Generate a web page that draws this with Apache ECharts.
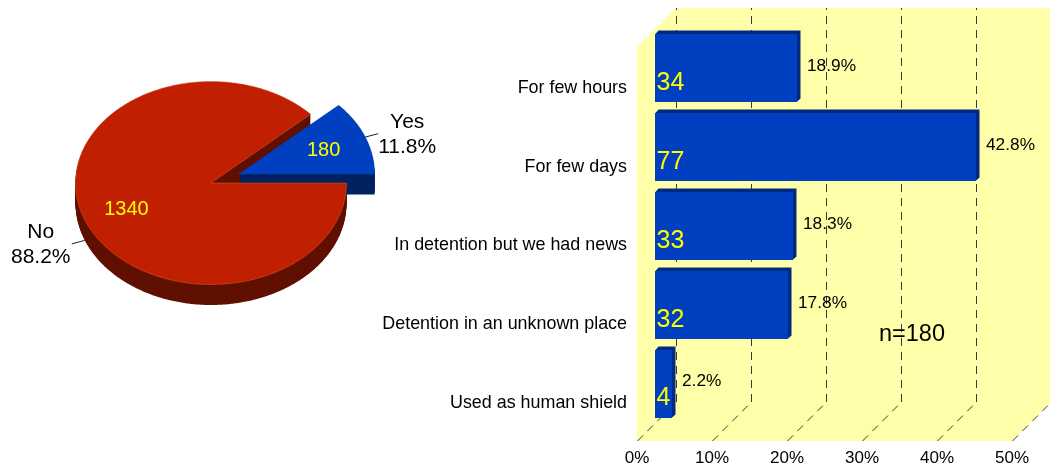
<!DOCTYPE html>
<html>
<head>
<meta charset="utf-8">
<style>html,body{margin:0;padding:0;background:#fff}#c{width:1050px;height:473px}</style>
<script src="https://cdn.jsdelivr.net/npm/echarts@6/dist/echarts.min.js"></script>
</head>
<body>
<div id="c"></div>
<script>
// ---- data ----
const pieNames = ['No', 'Yes'];
const pieValues = [1340, 180];
const barCategories = ['For few hours', 'For few days', 'In detention but we had news', 'Detention in an unknown place', 'Used as human shield'];
const barCounts = [34, 77, 33, 32, 4];
const barTotal = 180;
const axisTicks = [0, 10, 20, 30, 40, 50];
const noteText = 'n=180';

// ---- styling ----
const FONT = '"Liberation Sans", Arial, sans-serif';
const PIE_TOP = ['#c02000', '#0040c0'];
const PIE_SIDE = ['#601000', '#002060'];
const BAR_FRONT = '#0040c0', BAR_SIDE = '#002a80';
const WALL = '#ffffaa', GRIDLINE = '#3a3a3a', VALUE_TEXT = '#ffff00', TEXT = '#000';
const DEPTH = 39, BAR_SHIFT = 18, BAR_DEPTH = 3.5, BAR_HEIGHT = 68;
const PIE = {cx: 211, cy: 183, rx: 135.5, ry: 101.5, depth: 20.5, explodeX: 28, explodeY: -9};

const pieTotal = pieValues.reduce((a, b) => a + b, 0);
// slices run counter-clockwise; Yes starts at 3 o'clock, No follows it
const yesSpan = pieValues[1] / pieTotal * 2 * Math.PI;
function sliceAngles(i) {
  return i === 1 ? [0, yesSpan] : [yesSpan, 2 * Math.PI];
}
function sliceCenter(i) {
  return i === 1 ? [PIE.cx + PIE.explodeX, PIE.cy + PIE.explodeY] : [PIE.cx, PIE.cy];
}
function slicePoints(i, dy) {
  const [a0, a1] = sliceAngles(i), [cx, cy] = sliceCenter(i);
  const pts = [[cx, cy + dy]];
  const n = Math.ceil((a1 - a0) / 0.01);
  for (let k = 0; k <= n; k++) {
    const a = a0 + (a1 - a0) * k / n;
    pts.push([cx + PIE.rx * Math.cos(a), cy + dy - PIE.ry * Math.sin(a)]);
  }
  return pts;
}
function pieWalls(params, api) {
  const i = api.value(0), children = [];
  for (let d = PIE.depth; d > 0; d -= 1) {
    children.push({type: 'polygon', shape: {points: slicePoints(i, d)}, style: {fill: PIE_SIDE[i]}, silent: true});
  }
  return {type: 'group', children};
}
function pieTops(params, api) {
  const i = api.value(0), [a0, a1] = sliceAngles(i), [cx, cy] = sliceCenter(i);
  const mid = (a0 + a1) / 2, c = Math.cos(mid), s = Math.sin(mid);
  const ex = cx + PIE.rx * c;
  const ey = cy - PIE.ry * s + (s < 0 ? PIE.depth : 0);
  const dir = c < 0 ? -1 : 1;
  const lx = ex + dir * 13, ly = ey - s * 9.5;
  const pct = (api.value(1) / pieTotal * 100).toFixed(1) + '%';
  const tx = c < 0 ? lx - 31 : lx + 29;
  const font = '21px ' + FONT;
  return {type: 'group', children: [
    {type: 'polygon', shape: {points: slicePoints(i, 0)}, style: {fill: PIE_TOP[i], stroke: i === 0 ? '#d8603c' : PIE_TOP[i], lineWidth: 0.5}},
    {type: 'line', shape: {x1: ex, y1: ey, x2: lx, y2: ly}, style: {stroke: '#222', lineWidth: 1}},
    {type: 'text', style: {x: cx + 0.67 * PIE.rx * c, y: cy - 0.67 * PIE.ry * s + 1.5, text: String(api.value(1)), fill: VALUE_TEXT, font: '20px ' + FONT, align: 'center', verticalAlign: 'middle'}},
    {type: 'text', style: {x: tx, y: ly - 11.5, text: pieNames[i], fill: TEXT, font: font, align: 'center', verticalAlign: 'middle'}},
    {type: 'text', style: {x: tx, y: ly + 13.5, text: pct, fill: TEXT, font: font, align: 'center', verticalAlign: 'middle'}}
  ]};
}
function wallPlane(params, api) {
  const g = params.coordSys, x0 = g.x, x1 = g.x + g.width, y0 = g.y, y1 = g.y + g.height;
  return {type: 'polygon', shape: {points: [[x0, y0], [x0 + DEPTH, y0 - DEPTH], [x1 + DEPTH, y0 - DEPTH], [x1 + DEPTH, y1 - DEPTH], [x1, y1], [x0, y1]]}, style: {fill: WALL}};
}
function wallLines(params, api) {
  const g = params.coordSys, x = api.coord([api.value(0), 0])[0], yb = g.y + g.height, yt = g.y;
  const st = {stroke: GRIDLINE, lineWidth: 1, lineDash: [8, 6], fill: null};
  return {type: 'group', children: [
    {type: 'line', shape: {x1: x + 0.5, y1: yb, x2: x + DEPTH + 0.5, y2: yb - DEPTH}, style: st},
    {type: 'line', shape: {x1: x + DEPTH + 0.5, y1: yb - DEPTH, x2: x + DEPTH + 0.5, y2: yt - DEPTH}, style: st}
  ]};
}
function bar3d(params, api) {
  const pct = api.value(0), cat = api.value(1);
  const base = api.coord([0, cat]), end = api.coord([pct, cat]);
  const l = base[0] + BAR_SHIFT, r = Math.round(end[0] + BAR_SHIFT), m = base[1] - BAR_SHIFT;
  const t = Math.round(m - BAR_HEIGHT / 2), b = t + BAR_HEIGHT, d = BAR_DEPTH;
  return {type: 'group', children: [
    {type: 'polygon', shape: {points: [[l, t + 0.5], [l + d, t - d], [r + d, t - d], [r + 0.5, t + 0.5]]}, style: {fill: BAR_SIDE}},
    {type: 'polygon', shape: {points: [[r - 0.5, t], [r + d, t - d], [r + d, b - d], [r - 0.5, b]]}, style: {fill: BAR_SIDE}},
    {type: 'rect', shape: {x: l, y: t, width: r - l, height: b - t}, style: {fill: BAR_FRONT}},
    {type: 'text', style: {x: l + 1.5, y: m + 15, text: String(api.value(2)), fill: VALUE_TEXT, font: '25px ' + FONT, align: 'left', verticalAlign: 'middle'}},
    {type: 'text', style: {x: r + d + 6.5, y: m - 2, text: pct.toFixed(1) + '%', fill: TEXT, font: '17.3px ' + FONT, align: 'left', verticalAlign: 'middle'}}
  ]};
}

const barData = barCounts.map((v, i) => [v / barTotal * 100, i, v]);
const sliceRows = [[1, pieValues[1]], [0, pieValues[0]]];

const chart = echarts.init(document.getElementById('c'), null, {renderer: 'canvas'});
chart.setOption({
  animation: false,
  backgroundColor: '#fff',
  textStyle: {fontFamily: FONT},
  grid: {left: 637, width: 375, top: 47, height: 394, containLabel: false},
  xAxis: {
    type: 'value', min: 0, max: 50, interval: axisTicks[1] - axisTicks[0], z: 5,
    axisLine: {show: false}, axisTick: {show: false}, splitLine: {show: false},
    axisLabel: {formatter: '{value}%', fontSize: 17, color: TEXT, fontFamily: FONT, margin: 9, hideOverlap: false}
  },
  yAxis: {
    type: 'category', inverse: true, data: barCategories, z: 5,
    axisLine: {show: false}, axisTick: {show: false}, splitLine: {show: false},
    axisLabel: {
      formatter: '{a|{value}}', margin: 10, interval: 0,
      rich: {a: {fontSize: 17.9, color: TEXT, fontFamily: FONT, padding: [3, 0, 0, 0]}}
    }
  },
  graphic: [{type: 'text', x: 912, y: 335, z: 50, style: {text: noteText, fill: TEXT, font: '23.5px ' + FONT, align: 'center', verticalAlign: 'middle'}}],
  series: [
    {type: 'custom', coordinateSystem: 'none', z: 2, silent: true, data: sliceRows.slice().reverse(), renderItem: pieWalls},
    {type: 'custom', coordinateSystem: 'none', z: 3, silent: true, data: sliceRows, renderItem: pieTops},
    {type: 'custom', coordinateSystem: 'cartesian2d', z: 1, silent: true, data: [[0, 0]], renderItem: wallPlane, encode: {x: 0, y: 1}},
    {type: 'custom', coordinateSystem: 'cartesian2d', z: 2, silent: true, data: axisTicks.map(t => [t, 0]), renderItem: wallLines, encode: {x: 0, y: 1}},
    {type: 'custom', coordinateSystem: 'cartesian2d', z: 3, silent: true, data: barData, renderItem: bar3d, encode: {x: 0, y: 1}}
  ]
});
</script>
</body>
</html>
